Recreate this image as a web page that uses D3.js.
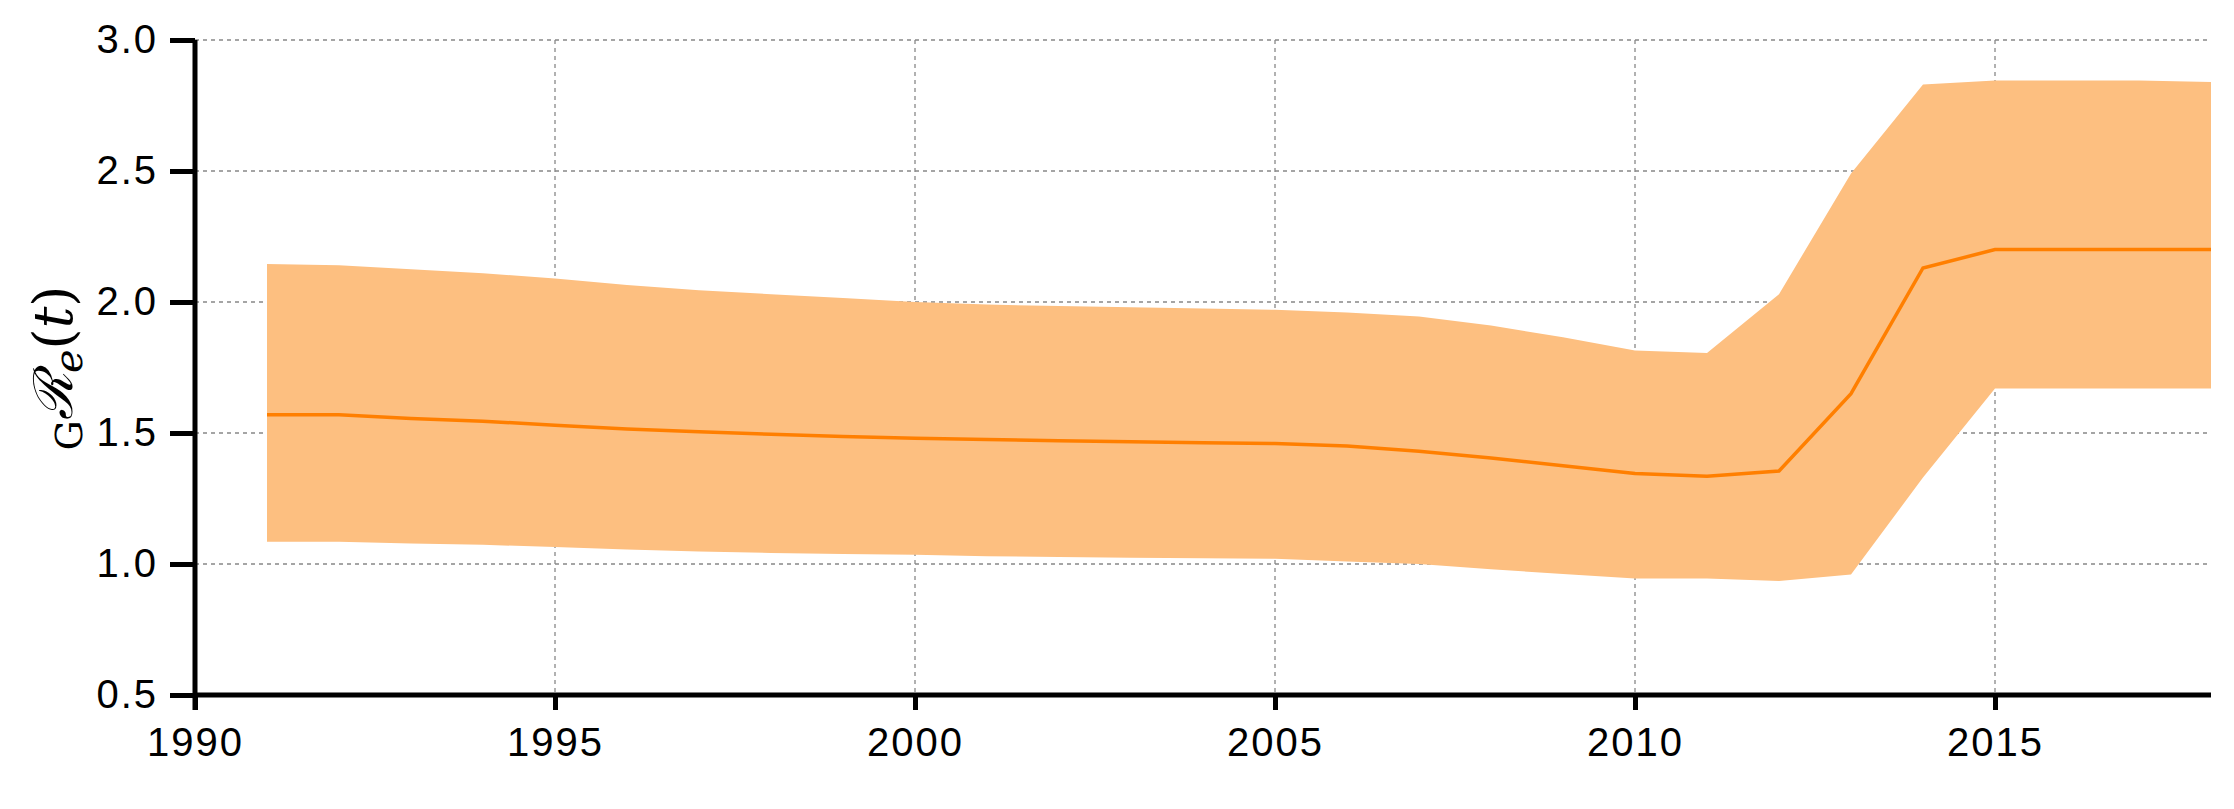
<!DOCTYPE html>
<html><head><meta charset="utf-8">
<script src="https://cdn.jsdelivr.net/npm/d3@7"></script>
<style>body{margin:0;background:#fff}</style></head>
<body><svg id="c" width="2234" height="809"></svg>
<script>
const years = [1991,1992,1993,1994,1995,1996,1997,1998,1999,2000,2001,2002,2003,2004,2005,2006,2007,2008,2009,2010,2011,2012,2013,2014,2015,2016,2017,2018];
const meanVals = [1.57,1.57,1.555,1.545,1.53,1.515,1.505,1.495,1.487,1.48,1.475,1.47,1.467,1.463,1.46,1.45,1.43,1.405,1.375,1.345,1.335,1.355,1.65,2.13,2.2,2.2,2.2,2.2];
const upperVals = [2.145,2.14,2.125,2.11,2.09,2.065,2.045,2.03,2.015,2.0,1.99,1.985,1.98,1.975,1.97,1.96,1.945,1.91,1.865,1.815,1.805,2.03,2.49,2.83,2.845,2.845,2.845,2.84];
const lowerVals = [1.085,1.085,1.078,1.073,1.065,1.055,1.048,1.042,1.038,1.035,1.03,1.027,1.024,1.022,1.02,1.01,1.0,0.98,0.962,0.945,0.945,0.935,0.96,1.33,1.67,1.67,1.67,1.67];
const xTicks = [1990,1995,2000,2005,2010,2015];
const yTicks = [0.5,1.0,1.5,2.0,2.5,3.0];

const svg = d3.select("#c");
const L=195, R=2211, T=40, B=695;
const x = d3.scaleLinear().domain([1990,2018]).range([L,R]);
const y = d3.scaleLinear().domain([0.5,3.0]).range([B,T]);
const data = years.map((yr,i)=>({yr,m:meanVals[i],u:upperVals[i],l:lowerVals[i]}));

svg.append("g").selectAll("line").data(yTicks.slice(1)).join("line")
  .attr("x1",L).attr("x2",R).attr("y1",d=>y(d)).attr("y2",d=>y(d))
  .attr("stroke","#888").attr("stroke-width",1.3).attr("stroke-dasharray","4,4");
svg.append("g").selectAll("line").data(xTicks.slice(1)).join("line")
  .attr("x1",d=>x(d)).attr("x2",d=>x(d)).attr("y1",T).attr("y2",B)
  .attr("stroke","#888").attr("stroke-width",1.3).attr("stroke-dasharray","4,4");

svg.append("path").datum(data).attr("fill","#fdbf80")
  .attr("d",d3.area().x(d=>x(d.yr)).y0(d=>y(d.l)).y1(d=>y(d.u)));
svg.append("path").datum(data).attr("fill","none").attr("stroke","#ff7f00").attr("stroke-width",3.5)
  .attr("d",d3.line().x(d=>x(d.yr)).y(d=>y(d.m)));

const fmt = d3.format(".1f");
const ya = svg.append("g").attr("transform",`translate(${L},0)`)
  .call(d3.axisLeft(y).tickValues(yTicks).tickFormat(fmt).tickSize(25).tickPadding(12).tickSizeOuter(0));
ya.select(".domain").attr("stroke-width",5).attr("d",`M0,${T}V${B+15}`);
const xa = svg.append("g").attr("transform",`translate(0,${B})`)
  .call(d3.axisBottom(x).tickValues(xTicks).tickFormat(d3.format("d")).tickSize(15).tickPadding(18).tickSizeOuter(0));
xa.select(".domain").attr("stroke-width",5).attr("d",`M${L},0H${R}`);
svg.selectAll(".tick line").attr("stroke-width",5);
svg.selectAll(".tick text").style("font-family","Liberation Sans, Arial, sans-serif").style("font-size","40px").style("letter-spacing","2px").attr("fill","#000");

const lab = svg.append("text").attr("transform","translate(72,368) rotate(-90)")
  .attr("text-anchor","middle").style("font-family","DejaVu Serif, Liberation Serif, serif").style("font-size","54px");
lab.append("tspan").style("font-size","38px").attr("dy",10).text("G");
lab.append("tspan").style("font-style","italic").attr("dy",-10).text("ℛ");
lab.append("tspan").style("font-style","italic").style("font-size","40px").attr("dy",10).text("e");
lab.append("tspan").attr("dy",-10).text("(");
lab.append("tspan").style("font-style","italic").text("t");
lab.append("tspan").text(")");
</script></body></html>
